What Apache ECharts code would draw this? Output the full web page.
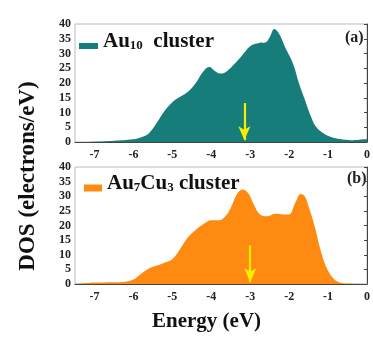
<!DOCTYPE html>
<html>
<head>
<meta charset="utf-8">
<script src="https://cdn.jsdelivr.net/npm/echarts@6/dist/echarts.min.js"></script>
<style>
  html, body { margin: 0; padding: 0; background: #fff; }
  #chart { width: 373px; height: 341px; }
</style>
</head>
<body>
<div id="chart"></div>
<script>
// Au10 cluster DOS (panel a)
const energyAu10 = [-7.5, -7, -6.5, -6, -5.8, -5.6, -5.4, -5.2, -5.0, -4.8, -4.6, -4.4, -4.2, -4.05, -3.9, -3.75, -3.6, -3.4, -3.2, -3.0, -2.8, -2.6, -2.5, -2.38, -2.25, -2.1, -1.9, -1.75, -1.6, -1.45, -1.3, -1.1, -0.9, -0.7, -0.4, -0.2, 0]
const dosAu10 = [0, 0.1, 0.4, 0.9, 1.6, 3, 6.5, 10.5, 13.5, 15.3, 17, 20, 24, 25.4, 24, 23.2, 24, 26.5, 29.5, 32.5, 33.5, 33.8, 35.5, 38.3, 36.5, 32, 26.5, 20, 14.5, 9, 5, 2.8, 1.6, 1, 0.6, 0.8, 0.9]

// Au7Cu3 cluster DOS (panel b)
const energyAu7Cu3 = [-7.5, -7.2, -7, -6.5, -6.2, -6, -5.8, -5.6, -5.4, -5.2, -5.0, -4.8, -4.6, -4.4, -4.2, -4.0, -3.8, -3.65, -3.5, -3.35, -3.2, -3.05, -2.9, -2.75, -2.55, -2.35, -2.15, -2.0, -1.85, -1.7, -1.6, -1.5, -1.35, -1.2, -1.05, -0.9, -0.75, -0.5, 0]
const dosAu7Cu3 = [0, 0.3, 0.5, 0.6, 0.8, 1.5, 3.5, 5.3, 6.3, 7.3, 8.5, 12, 16, 18.5, 20.5, 21.8, 21.8, 23, 26, 30.5, 32.3, 31, 27, 23.8, 23.2, 24, 23.8, 23.8, 27.5, 30.8, 30, 26.5, 20, 12, 6, 2.5, 0.8, 0.2, 0.1]

// Fermi-level arrows: [energy, from dos, to dos]
const arrowAu10 = [-3.15, 13.2, 0.6]
const arrowAu7Cu3 = [-3.0, 13.2, 0.6]

const xTicks = [-7, -6, -5, -4, -3, -2, -1, 0]

const serif = '"Liberation Serif", "DejaVu Serif", serif'

function pairs(xs, ys) {
  return xs.map((x, i) => [x, ys[i]])
}

function makeX(gridIndex) {
  return {
    type: 'value',
    gridIndex,
    min: -7.5,
    max: 0,
    interval: 0.5,
    axisLine: { show: true, lineStyle: { color: '#444', width: 1 } },
    axisTick: { show: false },
    splitLine: { show: false },
    axisLabel: {
      color: '#222',
      fontFamily: serif,
      fontWeight: 'bold',
      fontSize: 12,
      margin: 7,
      formatter: (v) => (xTicks.includes(v) ? String(v) : ''),
    },
  }
}

function makeY(gridIndex) {
  return {
    type: 'value',
    gridIndex,
    min: 0,
    max: 40,
    interval: 5,
    axisLine: { show: true, lineStyle: { color: '#444', width: 1 } },
    axisTick: { show: true, length: 3, lineStyle: { color: '#444' } },
    splitLine: { show: false },
    axisLabel: {
      color: '#222',
      fontFamily: serif,
      fontWeight: 'bold',
      fontSize: 12,
      margin: 4,
    },
  }
}

function makeArrow(a) {
  return {
    silent: true,
    symbol: ['none', 'arrow'],
    symbolSize: [9, 14],
    label: { show: false },
    itemStyle: { color: '#f2f000' },
    lineStyle: { color: '#f2f000', width: 2.2, type: 'solid' },
    data: [[
      { coord: [a[0], a[1]], lineStyle: { color: '#f2f000' }, itemStyle: { color: '#f2f000' } },
      { coord: [a[0], a[2]], itemStyle: { color: '#f2f000' } },
    ]],
  }
}

const legendRich = {
  a: { fontFamily: serif, fontWeight: 'bold', fontSize: 21, color: '#111', verticalAlign: 'bottom', padding: [0, 0, 9, 0] },
  s: { fontFamily: serif, fontWeight: 'bold', fontSize: 13, color: '#111', verticalAlign: 'bottom', padding: [0, 0, 9, 0] },
}

const chart = echarts.init(document.getElementById('chart'))
chart.setOption({
  animation: false,
  backgroundColor: '#fff',
  grid: [
    { left: 75, top: 24, right: -2, height: 118, show: true, borderColor: '#bbb', borderWidth: 1 },
    { left: 75, top: 167, right: -2, height: 117, show: true, borderColor: '#bbb', borderWidth: 1 },
  ],
  xAxis: [makeX(0), makeX(1)],
  yAxis: [makeY(0), makeY(1)],
  legend: [
    {
      data: ['Au10 cluster'],
      left: 74,
      top: 26,
      icon: 'rect',
      itemWidth: 19,
      itemHeight: 6,
      itemGap: 2,
      textStyle: { rich: legendRich },
      formatter: () => '{a|Au}{s|10}{a|  cluster}',
    },
    {
      data: ['Au7Cu3 cluster'],
      left: 79,
      top: 168,
      icon: 'rect',
      itemWidth: 18,
      itemHeight: 7,
      itemGap: 3,
      textStyle: { rich: legendRich },
      formatter: () => '{a|Au}{s|7}{a|Cu}{s|3}{a| cluster}',
    },
  ],
  graphic: [
    {
      type: 'text',
      left: 345,
      top: 30,
      style: { text: '(a)', font: 'bold 16px ' + serif, fill: '#222' },
    },
    {
      type: 'text',
      left: 347,
      top: 171,
      style: { text: '(b)', font: 'bold 16px ' + serif, fill: '#222' },
    },
    {
      type: 'text',
      x: 28,
      y: 176,
      rotation: Math.PI / 2,
      style: {
        text: '{b|DOS }{m|(electrons/eV)}',
        align: 'center',
        verticalAlign: 'middle',
        rich: {
          b: { font: 'bold 23px ' + serif, fill: '#111' },
          m: { font: 'bold 23px ' + serif, fill: '#111' },
        },
      },
    },
    {
      type: 'text',
      left: 152,
      top: 311,
      style: { text: 'Energy (eV)', font: 'bold 21px ' + serif, fill: '#111' },
    },
  ],
  series: [
    {
      name: 'Au10 cluster',
      type: 'line',
      xAxisIndex: 0,
      yAxisIndex: 0,
      smooth: 0.4,
      showSymbol: false,
      data: pairs(energyAu10, dosAu10),
      lineStyle: { width: 0, color: '#167d7a' },
      itemStyle: { color: '#167d7a' },
      areaStyle: { color: '#167d7a', opacity: 1 },
      markLine: makeArrow(arrowAu10),
    },
    {
      name: 'Au7Cu3 cluster',
      type: 'line',
      xAxisIndex: 1,
      yAxisIndex: 1,
      smooth: 0.4,
      showSymbol: false,
      data: pairs(energyAu7Cu3, dosAu7Cu3),
      lineStyle: { width: 0, color: '#ff8a12' },
      itemStyle: { color: '#ff8a12' },
      areaStyle: { color: '#ff8a12', opacity: 1 },
      markLine: makeArrow(arrowAu7Cu3),
    },
  ],
})
</script>
</body>
</html>
